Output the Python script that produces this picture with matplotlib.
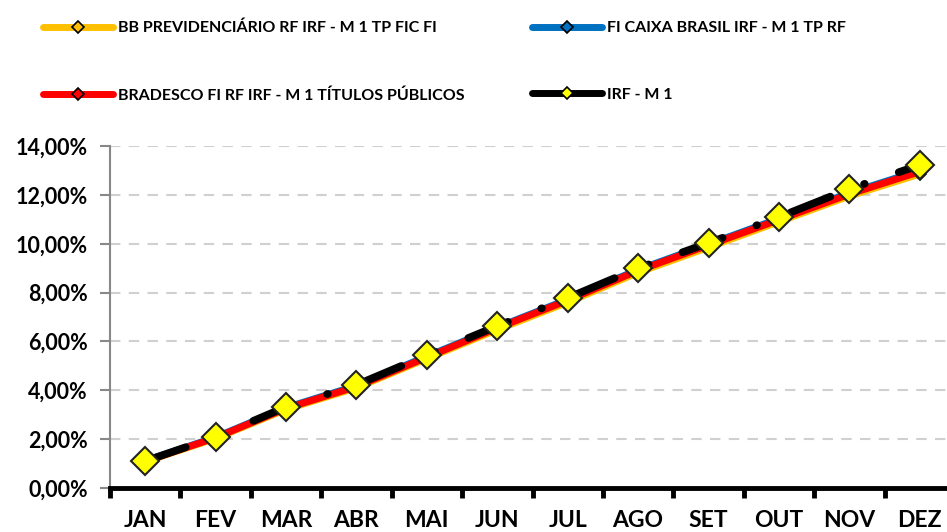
import matplotlib.pyplot as plt
from matplotlib.ticker import FuncFormatter, FixedLocator

months = ["JAN", "FEV", "MAR", "ABR", "MAI", "JUN", "JUL", "AGO", "SET", "OUT", "NOV", "DEZ"]

bb_prev = [1.08, 2.03, 3.22, 4.10, 5.30, 6.48, 7.60, 8.82, 9.85, 10.90, 11.95, 12.85]
caixa = [1.11, 2.08, 3.29, 4.19, 5.39, 6.58, 7.72, 8.94, 9.98, 11.03, 12.08, 13.00]
bradesco = [1.09, 2.06, 3.26, 4.15, 5.35, 6.55, 7.68, 8.90, 9.94, 10.98, 12.03, 12.95]
irf_m1 = [1.10, 2.09, 3.32, 4.22, 5.44, 6.63, 7.78, 9.00, 10.03, 11.09, 12.24, 13.22]

labels = ["BB PREVIDENCIÁRIO RF IRF - M 1 TP FIC FI",
          "FI CAIXA BRASIL IRF - M 1 TP RF",
          "BRADESCO FI RF IRF - M 1 TÍTULOS PÚBLICOS",
          "IRF - M 1"]

plt.rcParams["font.family"] = ["Lato", "DejaVu Sans"]
plt.rcParams["font.weight"] = "bold"

fig = plt.figure(figsize=(9.47, 5.32), dpi=100)
ax = fig.add_axes([110 / 947, 1 - 488 / 532, 845 / 947, 342 / 532])

x = list(range(len(months)))
ax.plot(x, bb_prev, color="#FFC000", lw=5, marker="D", ms=6,
        mfc="#FFC000", mec="black", mew=1.2, zorder=3)
ax.plot(x, caixa, color="#0070C0", lw=5, marker="D", ms=6,
        mfc="#0070C0", mec="black", mew=1.2, zorder=4)
ax.plot(x, bradesco, color="#FF0000", lw=5, marker="D", ms=6,
        mfc="#FF0000", mec="black", mew=1.2, zorder=5)
# long dash - dot black line, diamonds drawn on top separately
ax.plot(x, irf_m1, color="black", lw=5.5, zorder=6,
        dashes=(5.6, 4.7, 0.1, 4.7), dash_capstyle="round")
ax.plot(x, irf_m1, ls="none", marker="D", ms=14, mfc="#FFFF00",
        mec="#222222", mew=1.5, zorder=7)

ax.set_xlim(-0.5, 11.5)
ax.set_ylim(0, 14)
ax.set_yticks(range(0, 15, 2))
ax.yaxis.set_major_formatter(FuncFormatter(lambda v, p: f"{v:.2f}%".replace(".", ",")))
ax.set_xticks(x)
ax.set_xticklabels(months)
ax.xaxis.set_minor_locator(FixedLocator([i - 0.5 for i in range(13)]))

ax.grid(axis="y", color="#D0D0D0", ls=(0, (5, 4)), lw=1.5)
ax.set_axisbelow(True)
for s in ["top", "right"]:
    ax.spines[s].set_visible(False)
ax.spines["left"].set_color("#888888")
ax.spines["left"].set_linewidth(1.5)
ax.spines["bottom"].set_color("black")
ax.spines["bottom"].set_linewidth(3.5)
ax.spines["bottom"].set_zorder(8)

ax.tick_params(axis="y", length=7, width=1.5, color="#888888", labelsize=15.5, pad=9)
ax.tick_params(axis="x", which="major", length=0, labelsize=16.5, pad=16)
ax.tick_params(axis="x", which="minor", length=7, width=3.5, color="black", direction="out")
for t in ax.get_xticklabels() + ax.get_yticklabels():
    t.set_fontweight("bold")

def handle(color, face):
    return plt.Line2D([], [], color=color, lw=5, marker="D", ms=6,
                      mfc=face, mec="black", mew=1.2, solid_capstyle="round")

leg_kw = dict(loc="upper left", frameon=False, borderpad=0, borderaxespad=0,
              handlelength=4.4, handletextpad=0.3, labelspacing=3.3,
              prop={"size": 11.5, "weight": "bold"})
fig.legend([handle("#FFC000", "#FFC000"), handle("#FF0000", "#FF0000")],
           [labels[0], labels[2]], bbox_to_anchor=(43 / 947, 1 - 21 / 532), **leg_kw)
fig.legend([handle("#0070C0", "#0070C0"), handle("black", "#FFFF00")],
           [labels[1], labels[3]], bbox_to_anchor=(532 / 947, 1 - 21 / 532), **leg_kw)

fig.savefig("out.png", dpi=100)
